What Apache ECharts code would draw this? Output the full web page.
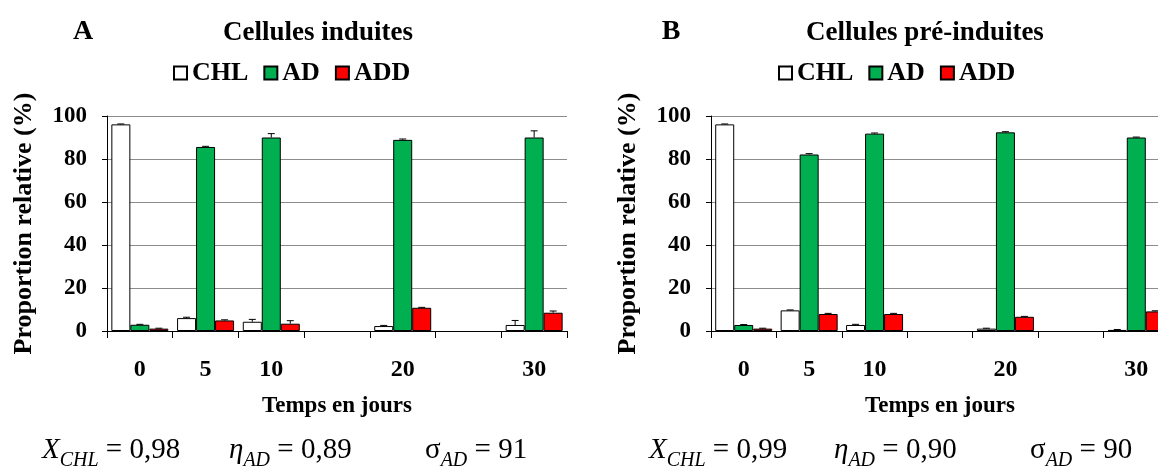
<!DOCTYPE html>
<html>
<head>
<meta charset="utf-8">
<script src="https://cdn.jsdelivr.net/npm/echarts@6/dist/echarts.min.js"></script>
<style>
  html, body { margin: 0; padding: 0; background: #fff; }
  #chart { width: 1158px; height: 468px; }
</style>
</head>
<body>
<div id="chart"></div>
<script>
// time in days (15 and 25 are empty slots on the axis)
const days = ['0', '5', '10', '15', '20', '25', '30']
const shownDays = ['0', '5', '10', '20', '30']
const seriesNames = ['CHL', 'AD', 'ADD']

// A - cellules induites
const chlA = [96.1, 6.0, 4.3, null, 2.3, null, 2.8]
const adA = [2.9, 85.6, 90.0, null, 88.9, null, 90.0]
const addA = [1.1, 4.9, 3.4, null, 10.8, null, 8.5]
const chlErrA = [0.2, 0.4, 1.1, null, 0.3, null, 2.1]
const adErrA = [0.2, 0.3, 1.8, null, 0.4, null, 3.1]
const addErrA = [0.2, 0.3, 1.4, null, 0.2, null, 0.8]

// B - cellules pré-induites
const chlB = [96.1, 9.6, 2.8, null, 1.1, null, 0.5]
const adB = [2.8, 82.1, 91.8, null, 92.4, null, 90.0]
const addB = [1.1, 7.9, 7.9, null, 6.6, null, 9.1]
const chlErrB = [0.2, 0.2, 0.3, null, 0.2, null, 0.2]
const adErrB = [0.2, 0.4, 0.3, null, 0.3, null, 0.2]
const addErrB = [0.2, 0.3, 0.3, null, 0.2, null, 0.3]

const colors = ['#ffffff', '#00b050', '#ff0000']
const serif = '"Liberation Serif", "Times New Roman", serif'
const barW = 19

const chart = echarts.init(document.getElementById('chart'))

function axesFor(idx) {
  return {
    x: {
      type: 'category',
      gridIndex: idx,
      data: days,
      name: 'Temps en jours',
      nameLocation: 'middle',
      nameGap: 64,
      nameTextStyle: { fontFamily: serif, fontWeight: 'bold', fontSize: 23, color: '#000' },
      axisLine: { lineStyle: { color: '#000', width: 1 } },
      axisTick: { show: true, length: 7, lineStyle: { color: '#000' } },
      axisLabel: {
        interval: 0,
        margin: 27,
        fontFamily: serif,
        fontWeight: 'bold',
        fontSize: 24,
        color: '#000',
        formatter: v => shownDays.includes(v) ? v : ''
      },
      splitLine: { show: false }
    },
    y: {
      type: 'value',
      gridIndex: idx,
      min: 0,
      max: 100,
      interval: 20,
      name: 'Proportion relative (%)',
      nameLocation: 'middle',
      nameGap: 70,
      nameTextStyle: { fontFamily: serif, fontWeight: 'bold', fontSize: 26, color: '#000' },
      axisLine: { show: true, lineStyle: { color: '#000', width: 1 } },
      axisTick: { show: true, length: 5, lineStyle: { color: '#000' } },
      axisLabel: { margin: 20, fontFamily: serif, fontWeight: 'bold', fontSize: 23, color: '#000' },
      splitLine: { lineStyle: { color: '#8c8c8c', width: 1 } }
    }
  }
}

function barSeries(idx, values) {
  return values.map((vals, k) => ({
    name: seriesNames[k],
    type: 'bar',
    xAxisIndex: idx,
    yAxisIndex: idx,
    barWidth: barW,
    barGap: '0%',
    itemStyle: { color: colors[k], borderColor: '#000', borderWidth: 1 },
    emphasis: { disabled: true },
    data: vals
  }))
}

function errorSeries(idx, values, errs) {
  return values.map((vals, k) => ({
    name: 'err' + idx + k,
    type: 'custom',
    xAxisIndex: idx,
    yAxisIndex: idx,
    z: 5,
    silent: true,
    data: vals.map((v, i) => v == null ? null : [i, v, errs[k][i]]).filter(d => d),
    renderItem(params, api) {
      const base = api.coord([api.value(0), api.value(1)])
      const top = api.coord([api.value(0), api.value(1) + api.value(2)])
      const cx = base[0] + (k - 1) * barW
      return {
        type: 'group',
        children: [
          { type: 'line', shape: { x1: cx, y1: base[1], x2: cx, y2: top[1] }, style: { stroke: '#000', lineWidth: 1 } },
          { type: 'line', shape: { x1: cx - 3.5, y1: top[1], x2: cx + 3.5, y2: top[1] }, style: { stroke: '#000', lineWidth: 1 } }
        ]
      }
    }
  }))
}

function legendAt(left) {
  return {
    left: left,
    top: 60,
    padding: 0,
    itemWidth: 13,
    itemHeight: 13,
    itemGap: 15,
    icon: 'rect',
    selectedMode: false,
    data: seriesNames,
    textStyle: { fontFamily: serif, fontWeight: 'bold', fontSize: 26, color: '#000' }
  }
}

function formula(x, main, sub, rest, italicMain) {
  return {
    type: 'text',
    left: x,
    top: 436,
    style: {
      text: '{m|' + main + '}{s|' + sub + '}{n|' + rest + '}',
      rich: {
        m: { fontFamily: serif, fontSize: 29, fontStyle: italicMain ? 'italic' : 'normal', lineHeight: 30, verticalAlign: 'top', fill: '#000' },
        s: { fontFamily: serif, fontSize: 20, fontStyle: 'italic', lineHeight: 20, padding: [15, 0, 0, 0], verticalAlign: 'top', fill: '#000' },
        n: { fontFamily: serif, fontSize: 29, lineHeight: 30, verticalAlign: 'top', fill: '#000' }
      }
    }
  }
}

function label(x, y, text, size) {
  return {
    type: 'text',
    x: x,
    y: y,
    style: {
      text: text,
      fontFamily: serif,
      fontWeight: 'bold',
      fontSize: size,
      fill: '#000',
      align: 'center',
      verticalAlign: 'middle'
    }
  }
}

const axA = axesFor(0)
const axB = axesFor(1)

chart.setOption({
  animation: false,
  grid: [
    { left: 107, top: 116, width: 460, height: 215, outerBoundsMode: 'none' },
    { left: 711, top: 116, width: 458, height: 215, outerBoundsMode: 'none' }
  ],
  legend: [legendAt(173), legendAt(778)],
  xAxis: [axA.x, axB.x],
  yAxis: [axA.y, axB.y],
  series: [
    ...barSeries(0, [chlA, adA, addA]),
    ...barSeries(1, [chlB, adB, addB]),
    ...errorSeries(0, [chlA, adA, addA], [chlErrA, adErrA, addErrA]),
    ...errorSeries(1, [chlB, adB, addB], [chlErrB, adErrB, addErrB])
  ],
  graphic: [
    label(83, 32, 'A', 28),
    label(318, 33, 'Cellules induites', 27),
    label(671, 32, 'B', 28),
    label(925, 33, 'Cellules pré-induites', 27),
    formula(42, 'X', 'CHL', ' = 0,98', true),
    formula(229, 'η', 'AD', ' = 0,89', true),
    formula(425, 'σ', 'AD', ' = 91', false),
    formula(649, 'X', 'CHL', ' = 0,99', true),
    formula(834, 'η', 'AD', ' = 0,90', true),
    formula(1030, 'σ', 'AD', ' = 90', false)
  ]
})
</script>
</body>
</html>
